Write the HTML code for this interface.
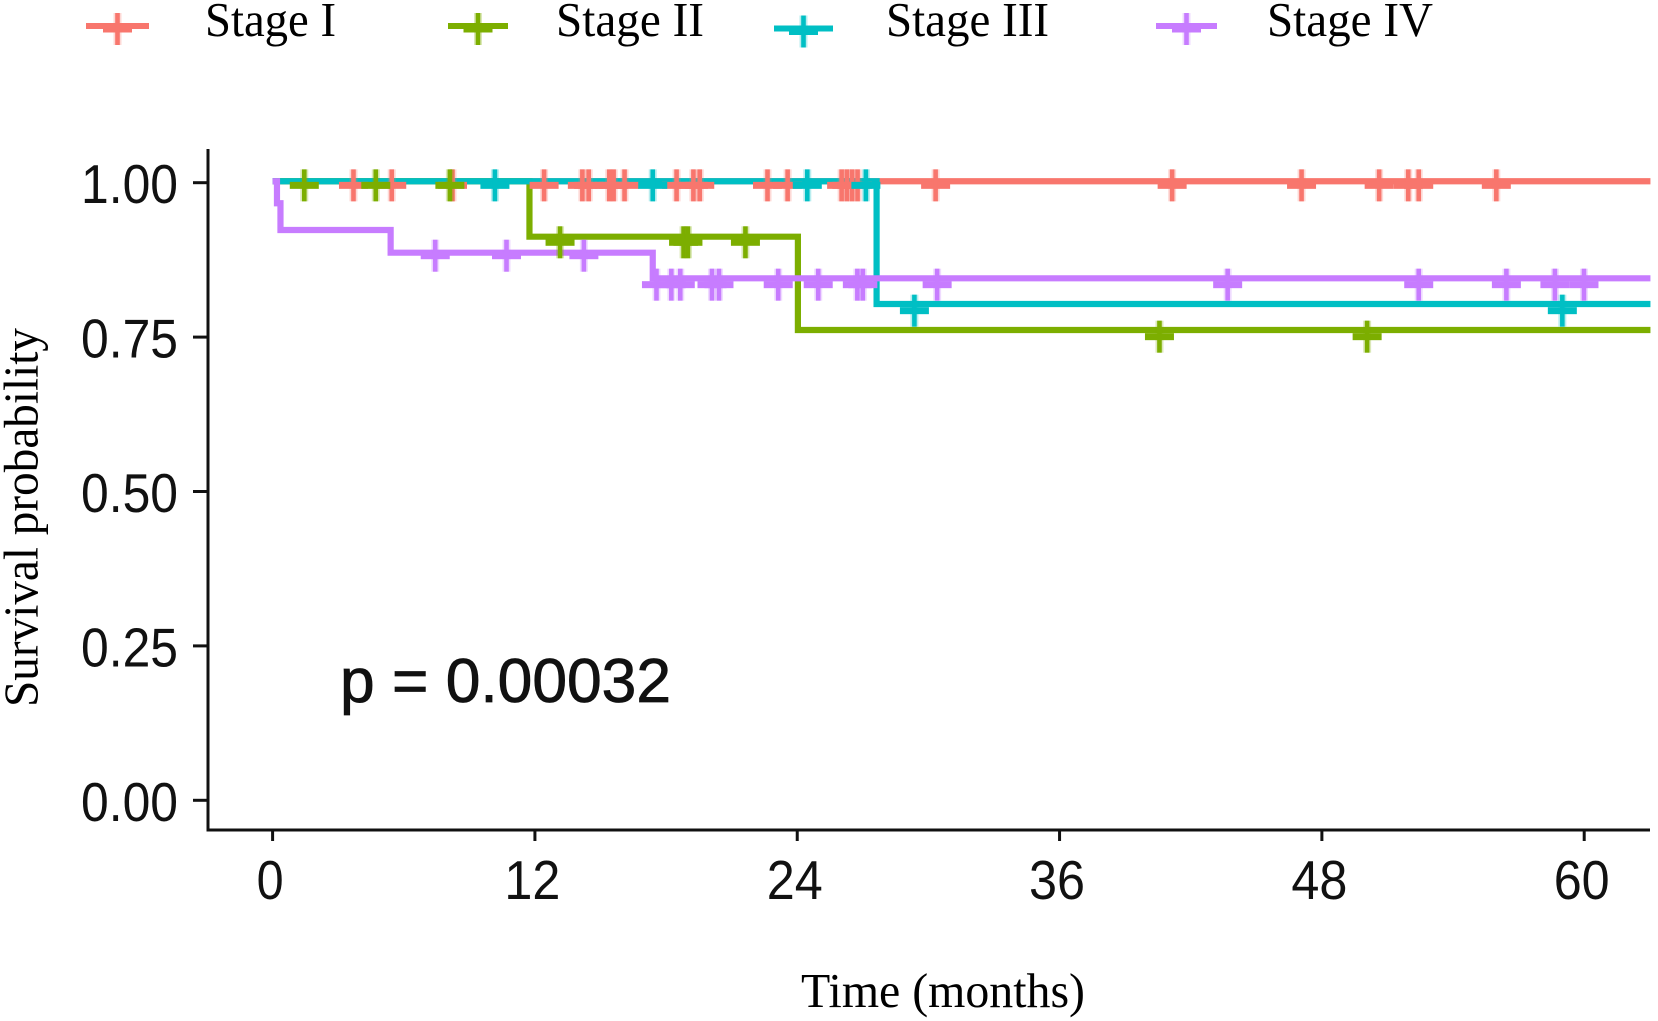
<!DOCTYPE html>
<html lang="en">
<head>
<meta charset="utf-8">
<title>Survival by stage</title>
<style>
html,body{margin:0;padding:0;background:#fff;}
svg{display:block;}
.num{font-family:"Liberation Sans",Arial,sans-serif;fill:#111;}
.ser{font-family:"Liberation Serif","Times New Roman",serif;fill:#000;}
</style>
</head>
<body>
<svg id="chart" xmlns="http://www.w3.org/2000/svg" width="1658" height="1021" viewBox="0 0 1658 1021">
  <rect x="0" y="0" width="1658" height="1021" fill="#ffffff"/>
  <g id="legend">
    <text class="ser" x="205" y="36" font-size="49" textLength="131" lengthAdjust="spacingAndGlyphs">Stage I</text>
    <text class="ser" x="556" y="36" font-size="49" textLength="148" lengthAdjust="spacingAndGlyphs">Stage II</text>
    <text class="ser" x="886" y="36" font-size="49" textLength="163" lengthAdjust="spacingAndGlyphs">Stage III</text>
    <text class="ser" x="1267" y="36" font-size="49" textLength="166" lengthAdjust="spacingAndGlyphs">Stage IV</text>
  </g>
  <g id="plot"></g>
  <g id="axes">
    <line x1="208" y1="149" x2="208" y2="831.5" stroke="#111" stroke-width="3"/>
    <line x1="206.5" y1="830" x2="1650" y2="830" stroke="#111" stroke-width="3"/>
  </g>
  <text class="num" x="340" y="702" font-size="62" textLength="331" lengthAdjust="spacingAndGlyphs" stroke="#111" stroke-width="0.8">p = 0.00032</text>
  <text class="ser" x="801" y="1007" font-size="49" textLength="284" lengthAdjust="spacingAndGlyphs">Time (months)</text>
  <text class="ser" transform="translate(37.5,707) rotate(-90)" x="0" y="0" font-size="49" textLength="379" lengthAdjust="spacingAndGlyphs">Survival probability</text>
</svg>
<script>
const xTickValues = [0, 12, 24, 36, 48, 60];
const yTickValues = [0, 0.25, 0.5, 0.75, 1];
const yTickLabels = ["0.00", "0.25", "0.50", "0.75", "1.00"];

const stageNames = ["Stage I", "Stage II", "Stage III", "Stage IV"];
const stageColors = ["#F8766D", "#7CAE00", "#00BFC4", "#C77CFF"];

const stage1StepTimes = [0];
const stage1StepSurv = [1.0023];
const stage1CensorSurv = [0.9957];
const stage1CensorTimes = [3.7, 5.45, 8.23, 12.42, 14.17, 14.46, 15.4, 15.6, 16.1, 18.48, 19.25, 19.54, 22.64, 23.56, 26.03, 26.27, 26.51, 26.76, 30.33, 41.15, 47.07, 50.62, 51.95, 52.43, 55.98];

const stage2StepTimes = [0, 11.75, 24.03];
const stage2StepSurv = [1.0023, 0.9126, 0.7615];
const stage2CensorSurv = [0.9957, 0.9035, 0.7507];
const stage2CensorTimes = [1.45, 4.72, 8.11, 13.15, 18.8, 19.0, 21.63, 40.57, 50.07];

const stage3StepTimes = [0, 27.63];
const stage3StepSurv = [1.0023, 0.8036];
const stage3CensorSurv = [0.9957, 0.7928];
const stage3CensorTimes = [10.17, 17.39, 24.46, 27.14, 29.36, 59.0];

const stage4StepTimes = [0, 0.2, 0.36, 5.4, 17.39];
const stage4StepSurv = [1.0023, 0.9667, 0.9234, 0.8867, 0.8452];
const stage4CensorSurv = [1, 0.9667, 0.9234, 0.8818, 0.8349];
const stage4CensorTimes = [7.44, 10.7, 14.24, 17.56, 18.24, 18.65, 20.1, 20.42, 23.13, 24.96, 26.75, 27.0, 30.4, 43.69, 52.43, 56.44, 58.66, 59.99];

const xMaxMonths = 63.03;

const NS = "http://www.w3.org/2000/svg";
function xScale(m) { return 272.6 + m * 21.86; }
function yScale(s) { return 800.3 - s * 617.6; }

function make(parent, tag, attrs) {
  const el = document.createElementNS(NS, tag);
  for (const k in attrs) el.setAttribute(k, attrs[k]);
  parent.appendChild(el);
  return el;
}

const plot = document.getElementById("plot");
const axes = document.getElementById("axes");
const legend = document.getElementById("legend");

const seriesList = [
  { times: stage1StepTimes, surv: stage1StepSurv, cSurv: stage1CensorSurv, censor: stage1CensorTimes },
  { times: stage2StepTimes, surv: stage2StepSurv, cSurv: stage2CensorSurv, censor: stage2CensorTimes },
  { times: stage3StepTimes, surv: stage3StepSurv, cSurv: stage3CensorSurv, censor: stage3CensorTimes },
  { times: stage4StepTimes, surv: stage4StepSurv, cSurv: stage4CensorSurv, censor: stage4CensorTimes }
];

// step lines first
seriesList.forEach(function (s, i) {
  let d = "M" + xScale(s.times[0]).toFixed(2) + " " + yScale(s.surv[0]).toFixed(2);
  for (let k = 1; k < s.times.length; k++) {
    d += "H" + xScale(s.times[k]).toFixed(2) + "V" + yScale(s.surv[k]).toFixed(2);
  }
  d += "H" + xScale(xMaxMonths).toFixed(2);
  const p = make(plot, "path", { d: d, fill: "none", stroke: stageColors[i], "stroke-width": 6.2, "stroke-linejoin": "miter" });
  
  
});

function drawPlus(parent, cx, cy, color) {
  const g = make(parent, "g", {});
  
  
  make(g, "rect", { x: cx - 4, y: cy - 16, width: 8, height: 32, fill: color, opacity: 0.28 });
  make(g, "rect", { x: cx - 14.5, y: cy - 3.5, width: 29, height: 7, fill: color });
  make(g, "rect", { x: cx - 2.3, y: cy - 16, width: 4.6, height: 32, fill: color });
}

// censor marks on top
seriesList.forEach(function (s, i) {
  s.censor.forEach(function (t) {
    let idx = 0;
    for (let k = 0; k < s.times.length; k++) { if (t >= s.times[k]) idx = k; }
    drawPlus(plot, xScale(t), yScale(s.cSurv[idx]), stageColors[i]);
  });
});

// x ticks
xTickValues.forEach(function (v) {
  const x = xScale(v);
  const t = make(axes, "line", { x1: x, y1: 830, x2: x, y2: 841, stroke: "#111", "stroke-width": 3 });
  
  
  const l = make(axes, "text", { class: "num", x: x - 2.5, y: 899, "font-size": 55, "text-anchor": "middle", textLength: String(v).length > 1 ? 56 : 27, lengthAdjust: "spacingAndGlyphs" });
  
  
  l.textContent = String(v);
});

// y ticks
yTickValues.forEach(function (v, i) {
  const y = yScale(v);
  const t = make(axes, "line", { x1: 193, y1: y, x2: 208, y2: y, stroke: "#111", "stroke-width": 3 });
  
  
  const l = make(axes, "text", { class: "num", x: 178, y: y + 20.5, "font-size": 55, "text-anchor": "end", textLength: 97, lengthAdjust: "spacingAndGlyphs" });
  
  
  l.textContent = yTickLabels[i];
});

// legend keys
const legendKeyLeft = [86, 448, 774, 1156];
const legendKeyRight = [149, 508, 833, 1217];
const legendKeyY = [26, 26, 28.5, 26];
stageNames.forEach(function (name, i) {
  const g = make(legend, "g", {});
  
  
  const y = legendKeyY[i];
  make(g, "rect", { x: legendKeyLeft[i], y: y - 3, width: legendKeyRight[i] - legendKeyLeft[i], height: 6, fill: stageColors[i] });
  const cx = (legendKeyLeft[i] + legendKeyRight[i]) / 2;
  drawPlus(g, cx, y + 3, stageColors[i]);
});
</script>
</body>
</html>
